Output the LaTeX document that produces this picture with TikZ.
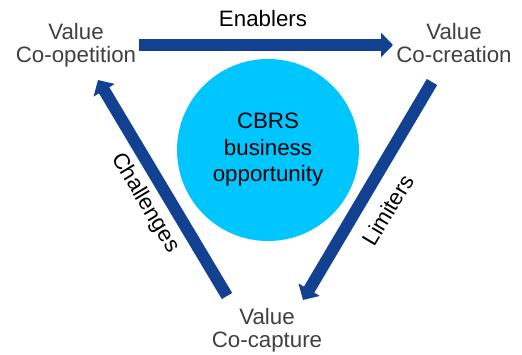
\documentclass[tikz,border=0pt]{standalone}
\usepackage{fontspec}
\setmainfont{Liberation Sans}
\usetikzlibrary{arrows.meta}
\definecolor{flowblue}{RGB}{19,65,145}
\definecolor{hubcyan}{RGB}{0,198,255}
\definecolor{labelgray}{RGB}{64,64,64}
\begin{document}
\begin{tikzpicture}[x=1pt,y=1pt,
  stage/.style={align=center,text=labelgray,font=\fontsize{22.3}{23}\selectfont,inner sep=0pt,anchor=base},
  flowlabel/.style={text=black,font=\fontsize{22.3}{26}\selectfont,inner sep=0pt},
  flow/.style={draw=flowblue,line width=12pt,-{Triangle[width=24pt,length=12pt]},shorten >=0pt},
  hub/.style={circle,fill=hubcyan,minimum size=182pt,inner sep=0pt,align=center,
    font=\fontsize{22.3}{26.5}\selectfont}]
\useasboundingbox (0,0) rectangle (522,354);
% central opportunity
\node[hub] (hub) at (268,204) {CBRS\\business\\opportunity};
% three value stages (base = baseline of the last line)
\node[stage] (coop) at (76,291) {Value\\Co-opetition};
\node[stage] (cocr) at (454,291) {Value\\Co-creation};
\node[stage] (coca) at (267,7) {Value\\Co-capture};
% arrow end points
\coordinate (e1) at (139,309);
\coordinate (e2) at (393,309);
\coordinate (l1) at (432,272);
\coordinate (l2) at (303,54);
\coordinate (c1) at (227,58);
\coordinate (c2) at (98,274);
\draw[flow] (e1) -- (e2);
\draw[flow] (l1) -- (l2);
\draw[flow] (c1) -- (c2);
% arrow labels
\node[flowlabel,anchor=base] (en) at (263,327) {Enablers};
\node[flowlabel,rotate=59] (li) at (388,144) {Limiters};
\node[flowlabel,rotate=-59] (ch) at (145,151) {Challenges};
\end{tikzpicture}
\end{document}
